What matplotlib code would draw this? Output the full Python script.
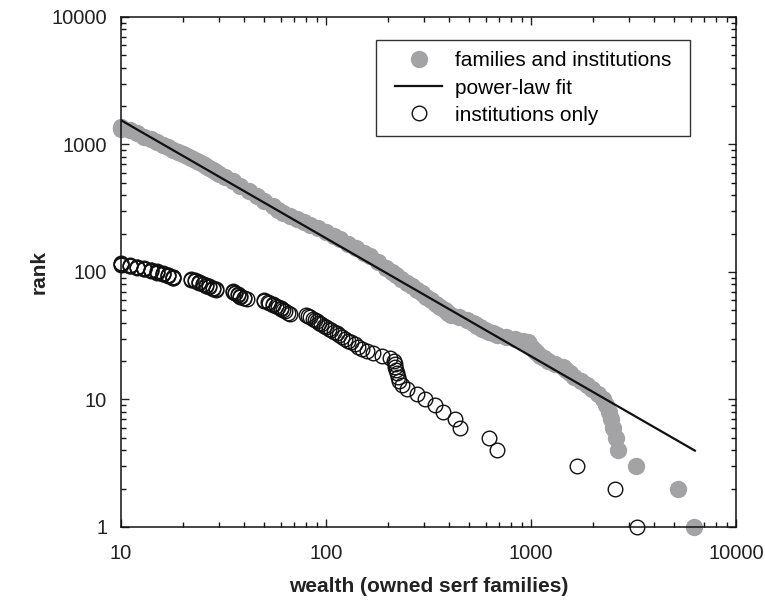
import matplotlib
matplotlib.use("Agg")
import numpy as np
import matplotlib.pyplot as plt
from matplotlib.patches import Rectangle
from matplotlib.ticker import NullFormatter, LogLocator

plt.rcParams["font.family"] = ["Liberation Sans", "DejaVu Sans"]

# families and institutions: rank vs wealth (sampled along the band)
fam_rank = [1, 2, 3, 4, 5, 6, 7, 8, 9, 10, 11, 12, 13, 14, 15, 16, 17, 18, 19, 20,
            21, 22, 23, 24, 25, 26, 27, 28, 29, 30, 31, 32, 33, 34, 35, 36, 37, 38, 39, 40,
            42, 44, 46, 48, 50, 53, 56, 60, 64, 68, 72, 77, 82, 88, 94, 100,
            108, 120, 133, 142, 154, 167, 182, 192, 205, 220, 235, 247, 260, 275, 290,
            309, 329, 359, 393, 430, 471, 513, 560, 590, 611, 627, 649, 675, 699, 733,
            756, 784, 812, 843, 877, 912, 952, 996, 1042, 1097, 1155, 1222, 1297, 1330, 1372]
fam_wealth = [6261, 5230, 3252, 2657, 2601, 2518, 2448, 2390, 2324, 2255,
              2111, 1985, 1874, 1752, 1624, 1545, 1480, 1433, 1303, 1216,
              1152, 1102, 1075, 1049, 1026, 1003, 982, 962, 911, 837,
              752, 679, 650, 621, 596, 575, 561, 546, 532, 519,
              489, 446, 409, 392, 379, 361, 344, 326, 309, 294, 279, 263, 249, 233, 220, 209,
              196, 179, 164, 153, 140, 128, 117, 109, 100, 91, 84, 78, 72, 67, 62,
              58, 55, 50, 46, 42, 38, 35, 32, 30, 29, 28, 27, 26, 25, 24,
              23, 22, 21, 20, 19, 18, 17, 16, 15, 14, 13, 12, 11, 10, 10]

# institutions only: wealth sorted descending, rank = position
inst_wealth = [3278, 2569, 1682, 680, 626, 452, 426, 373, 340, 304,
               277, 248, 235, 228, 224, 221, 219, 218, 217, 215,
               205, 188, 170, 158, 150, 143, 138, 133, 128, 124,
               120, 116, 113, 109, 106, 103, 100, 98, 95, 92,
               90, 88, 86, 84, 82, 80,
               67, 65, 63, 62, 60, 60, 58, 57, 55, 55, 53, 52, 50, 50,
               41, 40, 40, 38, 38, 37, 37, 36, 36, 35, 35,
               29, 29, 28, 28, 27, 27, 26, 26, 25, 25, 24, 24, 24, 23, 23, 22, 22,
               18, 18, 18, 18, 17, 17, 17, 16, 16, 16, 15, 15, 15, 14, 14, 14,
               13, 13, 13, 12, 12, 12, 11, 11, 11, 10, 10, 10, 10]
inst_rank = np.arange(1, len(inst_wealth) + 1)

# power-law fit end points
fit_wealth = [10, 6300]
fit_rank = [1550, 3.97]

x_ticks = [10, 100, 1000, 10000]
y_ticks = [1, 10, 100, 1000, 10000]

fig = plt.figure(figsize=(7.65, 6.02), dpi=100)
ax = fig.add_axes([0.1582, 0.1246, 0.8039, 0.8472])

ax.plot(fam_wealth, fam_rank, "o", color="#a3a3a6", markersize=12.5,
        markeredgewidth=0, clip_on=False, zorder=2, label="families and institutions")
ax.plot(fit_wealth, fit_rank, "-", color="#111111", linewidth=1.6,
        zorder=3, label="power-law fit")
ax.plot(inst_wealth, inst_rank, "o", markerfacecolor="none", markeredgecolor="#111111",
        markersize=10.5, markeredgewidth=1.0, clip_on=False, zorder=4,
        label="institutions only")

ax.set_xscale("log")
ax.set_yscale("log")
ax.set_xlim(10, 10000)
ax.set_ylim(1, 10000)

ax.set_xticks(x_ticks)
ax.set_xticklabels([str(v) for v in x_ticks])
ax.set_yticks(y_ticks)
ax.set_yticklabels([str(v) for v in y_ticks])
ax.xaxis.set_minor_locator(LogLocator(base=10, subs=np.arange(2, 10)))
ax.yaxis.set_minor_locator(LogLocator(base=10, subs=np.arange(2, 10)))
ax.xaxis.set_minor_formatter(NullFormatter())
ax.yaxis.set_minor_formatter(NullFormatter())

ax.tick_params(which="both", direction="in", top=True, right=True,
               color="#111111", width=1.0)
ax.tick_params(which="major", length=6, labelsize=14.5, colors="#222222")
ax.tick_params(axis="x", which="major", pad=12)
ax.tick_params(axis="y", which="major", pad=10)
ax.tick_params(which="minor", length=3.5)
for s in ax.spines.values():
    s.set_linewidth(1.1)
    s.set_color("#111111")

ax.set_xlabel("wealth (owned serf families)", fontsize=15, fontweight="bold",
              color="#222222", labelpad=10)
ax.set_ylabel("rank", fontsize=15, fontweight="bold", color="#222222")
ax.yaxis.set_label_coords(-0.118, 0.5)

# legend entries without frame, frame drawn as a separate box
leg = ax.legend(loc="upper left", bbox_to_anchor=(0.4455, 0.9324), borderaxespad=0,
                fontsize=15, frameon=False, handlelength=2.26, handletextpad=0.625,
                labelspacing=0.39, borderpad=0)
ax.add_patch(Rectangle((0.4146, 0.7667), 0.5106, 0.1882, transform=ax.transAxes,
                       fill=False, edgecolor="#333333", linewidth=1.0, zorder=5))

fig.savefig("out.png", dpi=100)
